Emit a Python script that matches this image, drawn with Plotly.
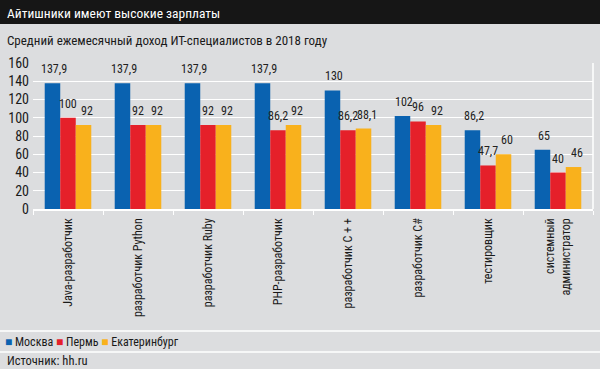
import plotly.graph_objects as go

categories = ["Java-разработчик", "разработчик Python", "разработчик Ruby", "PHP-разработчик",
              "разработчик С + +", "разработчик С#", "тестировщик", "системный<br>администратор"]
series_names = ["Москва", "Пермь", "Екатеринбург"]
moscow = [137.9, 137.9, 137.9, 137.9, 130, 102, 86.2, 65]
perm = [100, 92, 92, 86.2, 86.2, 96, 47.7, 40]
ekb = [92, 92, 92, 92, 88.1, 92, 60, 46]
y_ticks = [0, 20, 40, 60, 80, 100, 120, 140, 160]

title = "Айтишники имеют высокие зарплаты"
subtitle = "Средний ежемесячный доход ИТ-специалистов в 2018 году"
source = "Источник: hh.ru"

colors = ["#0a62b0", "#e5202a", "#f9b11c"]
BG = "#dcdddf"
FONT = "Liberation Sans Narrow, Roboto Condensed, Arial Narrow, Roboto, sans-serif"

W, H = 600, 369
ML, MR, MT, MB = 33, 7, 63, 160
PW = W - ML - MR
PH = H - MT - MB


def px_y(py):
    return (H - MB - py) / PH


def px_x(px):
    return (px - ML) / PW


def fmt(v):
    s = ("%g" % v).replace(".", ",")
    return s


all_series = [moscow, perm, ekb]
fig = go.Figure()
for name, vals, col in zip(series_names, all_series, colors):
    fig.add_trace(go.Bar(name=name, x=categories, y=vals, marker=dict(color=col, line=dict(width=0)),
                         showlegend=False, hoverinfo="skip"))

bargap = 0.335
group_px = PW / len(categories)
bar_px = group_px * (1 - bargap) / 3
label_dx = [2, 0, 3]
annotations = []
for i, vals in enumerate(all_series):
    for c, v in zip(categories, vals):
        annotations.append(dict(x=c, y=v, xref="x", yref="y", text=fmt(v), showarrow=False,
                                xshift=(i - 1) * bar_px + label_dx[i], yshift=5, yanchor="bottom",
                                font=dict(family=FONT, size=12, color="#222")))

# title / subtitle / legend / source
annotations.append(dict(x=px_x(5), y=px_y(12.5), xref="paper", yref="paper", text=title, showarrow=False,
                        xanchor="left", yanchor="middle", font=dict(family=FONT, size=13.5, color="white")))
annotations.append(dict(x=px_x(5), y=px_y(40), xref="paper", yref="paper", text=subtitle, showarrow=False,
                        xanchor="left", yanchor="middle", font=dict(family=FONT, size=13, color="#1a1a1a")))
legend_txt = " ".join(
    "<span style='color:%s'>■</span> %s" % (col, name) for name, col in zip(series_names, colors))
annotations.append(dict(x=px_x(3), y=px_y(342), xref="paper", yref="paper", text=legend_txt, showarrow=False,
                        xanchor="left", yanchor="middle", font=dict(family=FONT, size=12, color="#1a1a1a")))
annotations.append(dict(x=px_x(5), y=px_y(361), xref="paper", yref="paper", text=source, showarrow=False,
                        xanchor="left", yanchor="middle", font=dict(family=FONT, size=12.5, color="#1a1a1a")))

shapes = [
    dict(type="rect", xref="paper", yref="paper", x0=px_x(0), x1=px_x(W), y0=px_y(24), y1=px_y(0),
         fillcolor="#161616", line=dict(width=0), layer="below"),
    dict(type="line", xref="paper", yref="paper", x0=px_x(0), x1=px_x(W), y0=px_y(331), y1=px_y(331),
         line=dict(color="white", width=1.5)),
    dict(type="line", xref="paper", yref="paper", x0=px_x(0), x1=px_x(W), y0=px_y(352), y1=px_y(352),
         line=dict(color="white", width=1.5)),
    dict(type="line", xref="paper", yref="paper", x0=1, x1=1, y0=0, y1=1,
         line=dict(color="white", width=1.5)),
]

fig.update_layout(
    width=W, height=H,
    margin=dict(l=ML, r=MR, t=MT, b=MB, pad=0),
    paper_bgcolor=BG, plot_bgcolor=BG,
    barmode="group", bargap=bargap, bargroupgap=0,
    font=dict(family=FONT, size=13, color="#1a1a1a"),
    annotations=annotations, shapes=shapes,
    xaxis=dict(tickangle=-90, tickfont=dict(family=FONT, size=12, color="#1a1a1a"),
               showline=True, linecolor="white", linewidth=1.5,
               ticks="outside", tickson="boundaries", tickcolor="white", ticklen=4,
               ticklabelstandoff=3, showgrid=False, fixedrange=True),
    yaxis=dict(range=[0, 160], tickvals=y_ticks, ticktext=[str(t) for t in y_ticks],
               showgrid=True, gridcolor="white", gridwidth=1, zeroline=False, fixedrange=True,
               tickfont=dict(family=FONT, size=14, color="#1a1a1a"), ticks="", ticklabelstandoff=3),
)

fig.write_html("out.html", config={"displayModeBar": False, "staticPlot": True},
               post_script="document.body.style.margin='0';document.body.style.overflow='hidden';")
